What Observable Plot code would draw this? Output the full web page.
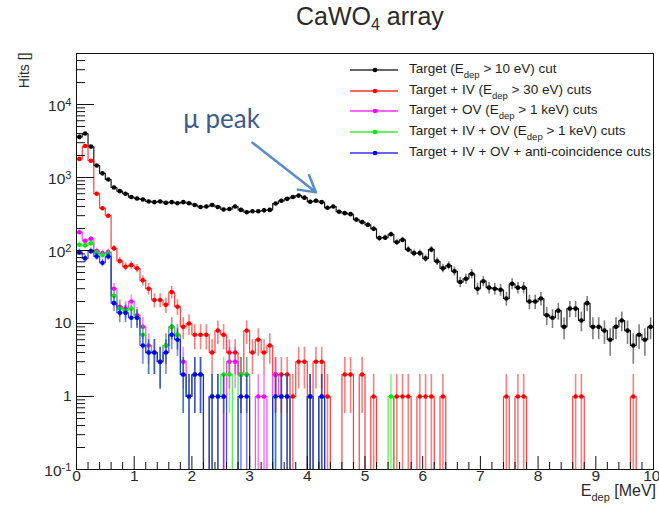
<!DOCTYPE html>
<html>
<head>
<meta charset="utf-8">
<script src="https://cdn.jsdelivr.net/npm/d3@7"></script>
<script src="https://cdn.jsdelivr.net/npm/@observablehq/plot@0.6"></script>
<style>
  html, body { margin: 0; padding: 0; background: #fff; }
  #wrap { position: relative; width: 659px; height: 508px; overflow: hidden;
          font-family: "Liberation Sans", Arial, Helvetica, sans-serif; color: #222; }
  #wrap svg.chart { position: absolute; left: 0; top: 0; }
  .title { position: absolute; left: 296px; top: 2px; font-size: 25px; color: #2a2a2a; white-space: nowrap; }
  .title sub { font-size: 16px; vertical-align: -5px; }
  .xlab { position: absolute; right: 3px; top: 482px; font-size: 16px; color: #2a2a2a; white-space: nowrap; }
  .xlab sub { font-size: 11px; vertical-align: -5px; }
  .legend { position: absolute; left: 335px; top: 57px; width: 318px; height: 106px; background: #fff; }
  .lrow { position: absolute; left: 0; height: 16px; width: 330px; }
  .lrow svg { position: absolute; left: 12px; top: 0; }
  .lrow span { position: absolute; left: 74px; top: -1px; font-size: 13.5px; line-height: 16px; white-space: nowrap; color: #1e1e1e; }
  .lrow sub { font-size: 9.5px; vertical-align: -5px; }
</style>
</head>
<body>
<div id="wrap"></div>
<script>
// ---------------- data ----------------
const binWidth = 0.1; // MeV
const binLow = d3.range(100).map(i => +(i * binWidth).toFixed(2));

// Target (E_dep > 10 eV) cut
const targetCut = [
  3600, 4000, 2650, 1460, 1140, 940, 730, 650, 600, 540,
  515, 500, 470, 460, 470, 450, 460, 445, 460, 445,
  420, 395, 400, 420, 395, 365, 370, 400, 360, 335,
  345, 345, 355, 360, 440, 480, 510, 540, 565, 530,
  465, 480, 460, 385, 400, 340, 325, 315, 265, 245,
  225, 198, 148, 150, 167, 130, 140, 103, 92, 92,
  78, 103, 71, 57, 62, 52, 37, 41, 48, 30,
  38, 31, 30, 29, 22, 35, 31, 31, 20, 20,
  22, 13, 12, 15, 9, 16, 16, 11, 19, 9,
  9, 8, 6, 9, 11, 8, 5, 7, 6, 9
];
// Target + IV (E_dep > 30 eV) cuts
const ivCut = [
  1800, 2700, 1700, 600, 380, 300, 107, 72, 60, 63,
  57, 39, 30, 21, 21, 18, 27, 17, 9, 10,
  7, 7, 7, 4, 8, 7, 4, 4, 2, 8,
  4, 6, 4, 5, 2, 2, 2, 1, 3, 3,
  1, 3, 3, 1, 0, 0, 2, 2, 0, 2,
  0, 1, 0, 0, 0, 1, 1, 1, 0, 1,
  1, 1, 0, 1, 0, 0, 0, 0, 0, 0,
  0, 0, 0, 0, 1, 0, 1, 1, 0, 0,
  0, 0, 0, 0, 0, 0, 1, 1, 0, 0,
  0, 0, 0, 0, 0, 0, 1, 0, 0, 0
];
// Target + OV (E_dep > 1 keV) cuts
const ovCut = [
  178, 135, 145, 98, 92, 95, 30, 17, 16, 20,
  13, 9, 5, 4, 3, 5, 9, 7, 3, 1,
  2, 2, 0, 1, 1, 1, 3, 3, 2, 2,
  0, 1, 1, 0, 2, 1, 1, 0, 0, 0,
  1, 0, 1, 0, 0, 0, 0, 0, 0, 0,
  0, 0, 0, 0, 0, 0, 0, 0, 0, 0,
  0, 0, 0, 0, 0, 0, 0, 0, 0, 0,
  0, 0, 0, 0, 0, 0, 0, 0, 0, 0,
  0, 0, 0, 0, 0, 0, 0, 0, 0, 0,
  0, 0, 0, 0, 0, 0, 0, 0, 0, 0
];
// Target + IV + OV (E_dep > 1 keV) cuts
const ivOvCut = [
  120, 118, 126, 92, 87, 90, 24, 16, 15, 16,
  12, 7, 4, 4, 3, 5, 9, 7, 2, 1,
  2, 2, 0, 1, 1, 2, 2, 0, 2, 2,
  0, 0, 0, 0, 1, 1, 1, 0, 0, 0,
  1, 0, 1, 0, 0, 0, 0, 0, 0, 0,
  0, 0, 0, 0, 1, 0, 0, 0, 0, 0,
  0, 0, 0, 0, 0, 0, 0, 0, 0, 0,
  0, 0, 0, 0, 0, 0, 0, 0, 0, 0,
  0, 0, 0, 0, 0, 0, 0, 0, 0, 0,
  0, 0, 0, 0, 0, 0, 0, 0, 0, 0
];
// Target + IV + OV + anti-coincidence cuts
const antiCut = [
  95, 78, 98, 83, 68, 83, 19, 14, 14, 12,
  12, 5, 4, 4, 3, 4, 7, 6, 2, 1,
  2, 2, 0, 1, 1, 1, 0, 0, 1, 1,
  0, 0, 0, 0, 1, 1, 1, 0, 0, 0,
  1, 0, 1, 0, 0, 0, 0, 0, 0, 0,
  0, 0, 0, 0, 0, 0, 0, 0, 0, 0,
  0, 0, 0, 0, 0, 0, 0, 0, 0, 0,
  0, 0, 0, 0, 0, 0, 0, 0, 0, 0,
  0, 0, 0, 0, 0, 0, 0, 0, 0, 0,
  0, 0, 0, 0, 0, 0, 0, 0, 0, 0
];

const seriesNames = [
  "Target (E<sub>dep</sub> &gt; 10 eV) cut",
  "Target + IV (E<sub>dep</sub> &gt; 30 eV) cuts",
  "Target + OV (E<sub>dep</sub> &gt; 1 keV) cuts",
  "Target + IV + OV (E<sub>dep</sub> &gt; 1 keV) cuts",
  "Target + IV + OV + anti-coincidence cuts"
];
const seriesColors = ["#000000", "#ff0000", "#ff00ff", "#00ee00", "#0000ff"];
const seriesValues = [targetCut, ivCut, ovCut, ivOvCut, antiCut];

const xTickValues = [0, 1, 2, 3, 4, 5, 6, 7, 8, 9, 10];
const yTickValues = [0.1, 1, 10, 100, 1000, 10000];
const yTickLabels = ["10^-1", "1", "10", "10^2", "10^3", "10^4"];
const xDomain = [0, 10];
const yDomain = [0.1, 5e4];

const annotationText = [{x: 1.85, y: 6200, label: "\u03bc peak"}];
const annotationArrow = [{x1: 3.05, y1: 3000, x2: 4.15, y2: 630}];

// ---------------- derived tables ----------------
const yMin = yDomain[0];
const minorX = d3.range(0, 10.001, 0.2).map(v => +v.toFixed(1)).filter(v => Math.abs(v - Math.round(v)) > 1e-6);
const minorY = [];
for (const dec of [0.1, 1, 10, 100, 1000, 10000]) for (let m = 2; m <= 9; m++) if (m * dec < yDomain[1]) minorY.push(m * dec);

function stepsOf(values) {
  const out = [];
  values.forEach((v, i) => {
    const yv = v > 0 ? v : yMin;
    out.push({x: binLow[i], y: yv}, {x: binLow[i] + binWidth, y: yv});
  });
  return out;
}
function pointsOf(values) {
  const out = [];
  values.forEach((v, i) => {
    if (v > 0) {
      const e = Math.sqrt(v);
      out.push({x: binLow[i] + binWidth / 2, y: v, lo: Math.max(v - e, yMin), hi: v + e});
    }
  });
  return out;
}

const W = 659, H = 508, mL = 76, mR = 6, mT = 53, mB = 39;
const frameW = W - mL - mR, frameH = H - mT - mB;

const seriesMarks = [];
seriesValues.forEach((vals, si) => {
  const c = seriesColors[si];
  const pts = pointsOf(vals);
  seriesMarks.push(
    Plot.line(stepsOf(vals), {x: "x", y: "y", stroke: c, strokeWidth: 1.2, strokeOpacity: si === 0 ? 0.9 : 0.75, clip: true}),
    Plot.ruleX(pts, {x: "x", y1: "lo", y2: "hi", stroke: c, strokeWidth: 1.6, strokeOpacity: 0.5, clip: true}),
    Plot.dot(pts, {x: "x", y: "y", r: 2.3, fill: c, stroke: "none", clip: true})
  );
});

const lastTick = xTickValues[xTickValues.length - 1];

const chart = Plot.plot({
  width: W, height: H,
  marginLeft: mL, marginRight: mR, marginTop: mT, marginBottom: mB,
  style: {fontFamily: "'Liberation Sans', Arial, sans-serif", background: "transparent", overflow: "visible"},
  x: {domain: xDomain, axis: null},
  y: {type: "log", domain: yDomain, axis: null, clamp: true},
  marks: [
    ...seriesMarks,
    // ticks (inside the frame)
    Plot.ruleX(xTickValues, {x: d => d, insetTop: frameH - 13, stroke: "#111"}),
    Plot.ruleX(minorX, {x: d => d, insetTop: frameH - 7, stroke: "#111"}),
    Plot.ruleY(yTickValues, {y: d => d, insetRight: frameW - 18, stroke: "#111"}),
    Plot.ruleY(minorY, {y: d => d, insetRight: frameW - 9, stroke: "#111"}),
    Plot.frame({stroke: "#111", strokeWidth: 1}),
    // tick labels
    Plot.text(xTickValues.filter(d => d !== lastTick), {x: d => d, frameAnchor: "bottom", dy: 11, text: d => String(d), fontSize: 15.5, fill: "#2a2a2a"}),
    Plot.text([lastTick], {x: d => d, frameAnchor: "bottom", dy: 11, dx: 7, textAnchor: "end", text: d => String(d), fontSize: 15.5, fill: "#2a2a2a"}),
    Plot.text(yTickValues, {y: d => d, frameAnchor: "left", dx: -5, textAnchor: "end", text: (d, i) => yTickLabels[i], fontSize: 15.5, fill: "#2a2a2a", className: "ylab"}),
    // y title
    Plot.text(["Hits []"], {frameAnchor: "top-left", rotate: -90, textAnchor: "end", dx: -57, dy: -1, fontSize: 14, fill: "#2a2a2a"}),
    // annotation
    Plot.text(annotationText, {x: "x", y: "y", text: "label", textAnchor: "start", fontSize: 26, fontFamily: "Lato, 'Open Sans', sans-serif", fill: "#3b5c8c"}),
    Plot.arrow(annotationArrow, {x1: "x1", y1: "y1", x2: "x2", y2: "y2", stroke: "#5b8cc8", strokeWidth: 2.5, headLength: 11})
  ]
});
chart.classList.add("chart");

// superscripts on y tick labels
chart.querySelectorAll(".ylab text").forEach(el => {
  const t = el.textContent;
  if (t.includes("^")) {
    const [base, exp] = t.split("^");
    el.textContent = "";
    const ns = "http://www.w3.org/2000/svg";
    const b = document.createElementNS(ns, "tspan");
    b.textContent = base;
    b.setAttribute("dy", "0.12em");
    const e = document.createElementNS(ns, "tspan");
    e.textContent = exp;
    e.setAttribute("dy", "-0.5em");
    e.setAttribute("font-size", "0.72em");
    el.appendChild(b); el.appendChild(e);
  }
});

const wrap = document.getElementById("wrap");
wrap.appendChild(chart);

// title
const title = document.createElement("div");
title.className = "title";
title.innerHTML = "CaWO<sub>4</sub> array";
wrap.appendChild(title);

// x title
const xlab = document.createElement("div");
xlab.className = "xlab";
xlab.innerHTML = "E<sub>dep</sub> [MeV]";
wrap.appendChild(xlab);

// legend
const legend = document.createElement("div");
legend.className = "legend";
seriesNames.forEach((name, i) => {
  const row = document.createElement("div");
  row.className = "lrow";
  row.style.top = (5 + i * 20.7) + "px";
  row.innerHTML = `<svg width="52" height="16"><line x1="3" y1="8" x2="51" y2="8" stroke="${seriesColors[i]}" stroke-width="1.4" stroke-opacity="0.8"/><circle cx="28" cy="8" r="2.3" fill="${seriesColors[i]}"/></svg><span>${name}</span>`;
  legend.appendChild(row);
});
wrap.appendChild(legend);
</script>
</body>
</html>
